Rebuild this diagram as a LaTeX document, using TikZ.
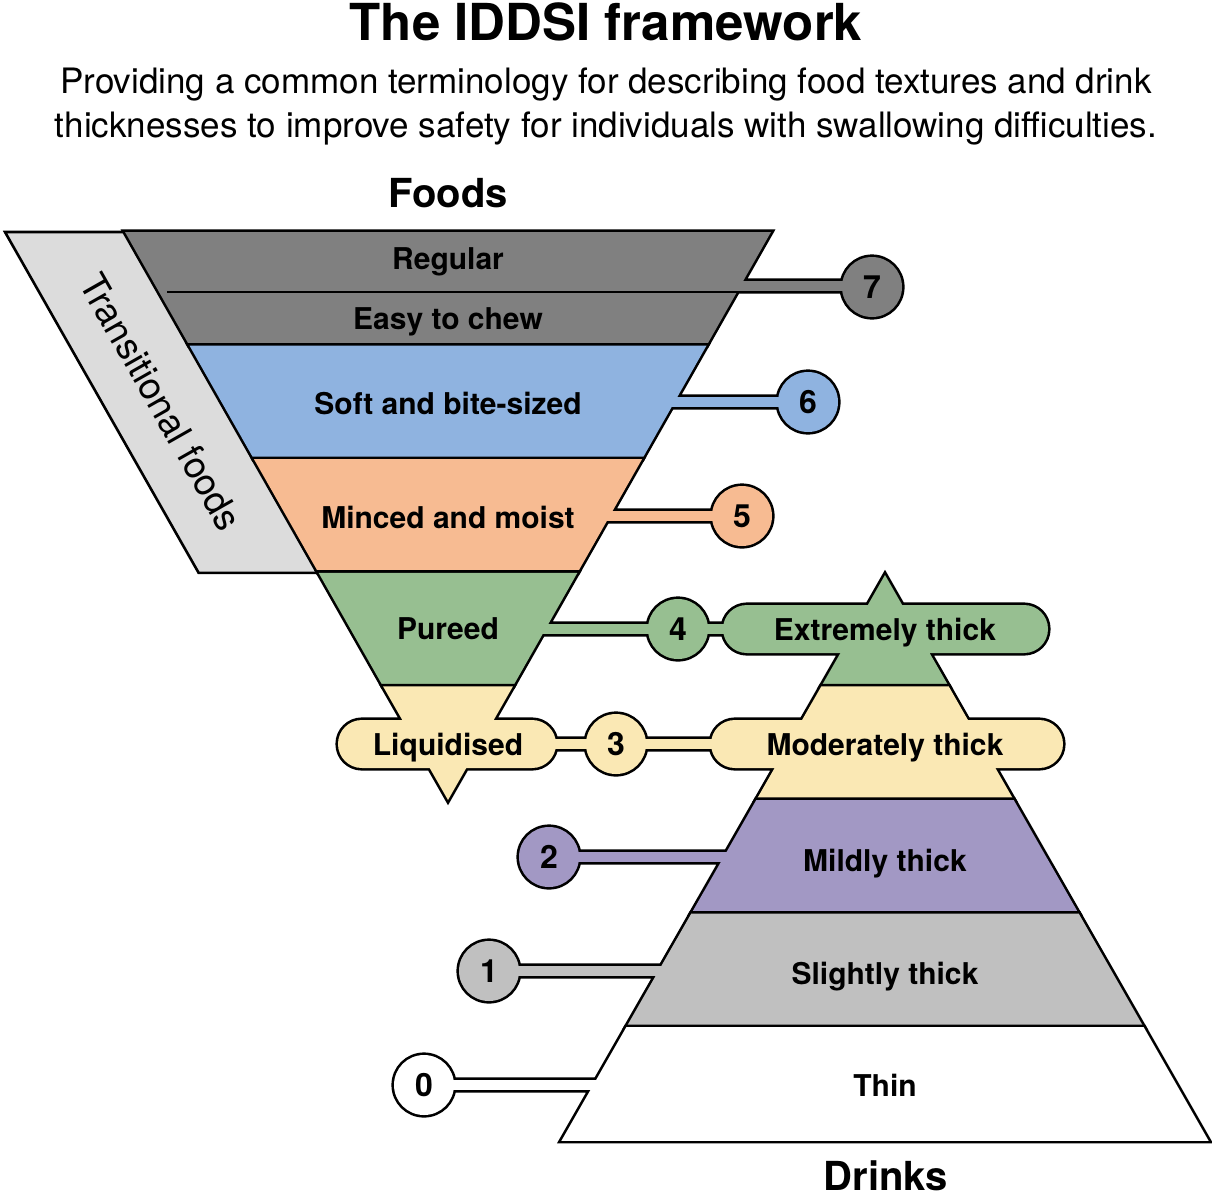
\documentclass[tikz,border=0pt]{standalone}
\usepackage{fontspec}
\setmainfont{TeX Gyre Heros}
\usetikzlibrary{calc}
\definecolor{grayA}{RGB}{128,128,128}
\definecolor{blueA}{RGB}{143,179,224}
\definecolor{orangeA}{RGB}{247,187,146}
\definecolor{greenA}{RGB}{151,191,145}
\definecolor{yellowA}{RGB}{250,232,180}
\definecolor{purpleA}{RGB}{162,152,196}
\definecolor{grayB}{RGB}{192,192,192}
\definecolor{grayC}{RGB}{220,220,220}
\tikzset{
     levelLine/.style =
        { draw=black
        , line width=5.2pt
        }
   , pill/.style =
        { rounded corners=23.9pt
        }
   , levelLabel/.style =
        { anchor=base
        , font=\bfseries\fontsize{30}{32}\selectfont
        }
   , numLabel/.style =
        { anchor=base
        , font=\bfseries\fontsize{32}{34}\selectfont
        }
   , headLabel/.style =
        { anchor=base
        , font=\bfseries\fontsize{40}{42}\selectfont
        }
}

\begin{document}
\begin{tikzpicture}
            [ x=1pt
            , y=-1pt
            ]
            \useasboundingbox (0,0) rectangle (1212,1200);

            \coordinate (k7) at (872,287);
            \coordinate (k6) at (808,402);
            \coordinate (k5) at (742,516);
            \coordinate (k4) at (678,629);
            \coordinate (k3) at (616,744);
            \coordinate (k2) at (549,857);
            \coordinate (k1) at (489,971);
            \coordinate (k0) at (424,1085);

            % transitional foods
            \filldraw[fill=grayC, line width=2.6pt]
                (5,232) -- (125,232) -- (318.6,572.8) -- (198.6,572.8) -- cycle;

            % foods, level 7
            \path[levelLine]
                (125,232) -- (771,232) -- (706.5,345.6) -- (189.5,345.6) -- cycle
                (719,281) rectangle ($(k7)+(0,4)$)
                (k7) circle[radius=30pt];
            \fill[grayA] (125,232) -- (771,232) -- (706.5,345.6) -- (189.5,345.6) -- cycle;
            \fill[grayA] (719,281) rectangle ($(k7)+(0,4)$);
            \fill[grayA] (k7) circle[radius=30pt];
            \draw[line width=2.6pt] (167,292) -- (737.5,292);

            % level 6
            \path[levelLine]
                (189.5,345.6) -- (706.5,345.6) -- (642,459.2) -- (254,459.2) -- cycle
                (654,397) rectangle ($(k6)+(0,5)$)
                (k6) circle[radius=30pt];
            \fill[blueA] (189.5,345.6) -- (706.5,345.6) -- (642,459.2) -- (254,459.2) -- cycle;
            \fill[blueA] (654,397) rectangle ($(k6)+(0,5)$);
            \fill[blueA] (k6) circle[radius=30pt];

            % level 5
            \path[levelLine]
                (254,459.2) -- (642,459.2) -- (577.4,572.8) -- (318.6,572.8) -- cycle
                (590,511) rectangle ($(k5)+(0,5)$)
                (k5) circle[radius=30pt];
            \fill[orangeA] (254,459.2) -- (642,459.2) -- (577.4,572.8) -- (318.6,572.8) -- cycle;
            \fill[orangeA] (590,511) rectangle ($(k5)+(0,5)$);
            \fill[orangeA] (k5) circle[radius=30pt];

            % level 4
            \path[levelLine]
                (318.6,572.8) -- (577.4,572.8) -- (512.9,686.4) -- (383.1,686.4) -- cycle
                (885,575) -- (948.7,686.4) -- (821.3,686.4) -- cycle
                (525,624) rectangle (740,634)
                (k4) circle[radius=30pt]
                [pill] (723,605) rectangle (1048,653);
            \fill[greenA] (318.6,572.8) -- (577.4,572.8) -- (512.9,686.4) -- (383.1,686.4) -- cycle;
            \fill[greenA] (885,575) -- (948.7,686.4) -- (821.3,686.4) -- cycle;
            \fill[greenA] (525,624) rectangle (740,634);
            \fill[greenA] (k4) circle[radius=30pt];
            \fill[greenA, pill] (723,605) rectangle (1048,653);

            % level 3
            \path[levelLine]
                (383.1,686.4) -- (512.9,686.4) -- (448,800) -- cycle
                (821.3,686.4) -- (948.7,686.4) -- (1013.7,800) -- (756.3,800) -- cycle
                (540,739) rectangle (730,749)
                (k3) circle[radius=30pt]
                [pill] (338,720) rectangle (556,768)
                (711,720) rectangle (1063,768);
            \fill[yellowA] (383.1,686.4) -- (512.9,686.4) -- (448,800) -- cycle;
            \fill[yellowA] (821.3,686.4) -- (948.7,686.4) -- (1013.7,800) -- (756.3,800) -- cycle;
            \fill[yellowA] (540,739) rectangle (730,749);
            \fill[yellowA] (k3) circle[radius=30pt];
            \fill[yellowA, pill] (338,720) rectangle (556,768);
            \fill[yellowA, pill] (711,720) rectangle (1063,768);

            % drinks, level 2
            \path[levelLine]
                (756.3,800) -- (1013.7,800) -- (1078.7,913.6) -- (691.3,913.6) -- cycle
                ($(k2)+(0,-5)$) rectangle (744,862)
                (k2) circle[radius=30pt];
            \fill[purpleA] (756.3,800) -- (1013.7,800) -- (1078.7,913.6) -- (691.3,913.6) -- cycle;
            \fill[purpleA] ($(k2)+(0,-5)$) rectangle (744,862);
            \fill[purpleA] (k2) circle[radius=30pt];

            % level 1
            \path[levelLine]
                (691.3,913.6) -- (1078.7,913.6) -- (1143.7,1027.2) -- (626.3,1027.2) -- cycle
                ($(k1)+(0,-5)$) rectangle (679,976)
                (k1) circle[radius=30pt];
            \fill[grayB] (691.3,913.6) -- (1078.7,913.6) -- (1143.7,1027.2) -- (626.3,1027.2) -- cycle;
            \fill[grayB] ($(k1)+(0,-5)$) rectangle (679,976);
            \fill[grayB] (k1) circle[radius=30pt];

            % level 0
            \path[levelLine]
                (626.3,1027.2) -- (1143.7,1027.2) -- (1208.6,1140.8) -- (561.4,1140.8) -- cycle
                ($(k0)+(0,-5)$) rectangle (613,1090)
                (k0) circle[radius=30pt];
            \fill[white] (626.3,1027.2) -- (1143.7,1027.2) -- (1208.6,1140.8) -- (561.4,1140.8) -- cycle;
            \fill[white] ($(k0)+(0,-5)$) rectangle (613,1090);
            \fill[white] (k0) circle[radius=30pt];

            % texts
            \node[anchor=base, font=\bfseries\fontsize{51}{53}\selectfont] (title) at (606,40) {The IDDSI framework};
            \node[anchor=base, font=\fontsize{35}{37}\selectfont] (sub1) at (606,93)
                {Providing a common terminology for describing food textures and drink};
            \node[anchor=base, font=\fontsize{35}{37}\selectfont] (sub2) at (606,137)
                {thicknesses to improve safety for individuals with swallowing difficulties.};
            \node[headLabel] (foods) at (448,207) {Foods};
            \node[headLabel] (drinks) at (886,1190) {Drinks};
            \node[rotate=-60.4, font=\fontsize{37}{39}\selectfont] (trans) at (161,402) {Transitional foods};

            \node[levelLabel] (regular) at (448,269) {Regular};
            \node[levelLabel] (easy) at (448,329) {Easy to chew};
            \node[levelLabel] (soft) at (448,414) {Soft and bite-sized};
            \node[levelLabel] (minced) at (448,528) {Minced and moist};
            \node[levelLabel] (pureed) at (448,639) {Pureed};
            \node[levelLabel] (liquid) at (448,755) {Liquidised};
            \node[levelLabel] (extreme) at (885,640) {Extremely thick};
            \node[levelLabel] (moderate) at (885,755) {Moderately thick};
            \node[levelLabel] (mild) at (885,871) {Mildly thick};
            \node[levelLabel] (slight) at (885,984) {Slightly thick};
            \node[levelLabel] (thin) at (885,1096) {Thin};

            \foreach \k in {0,...,7}
                \node[numLabel] (n\k) at ($(k\k)+(0,11.5)$) {\k};
        \end{tikzpicture}
\end{document}
